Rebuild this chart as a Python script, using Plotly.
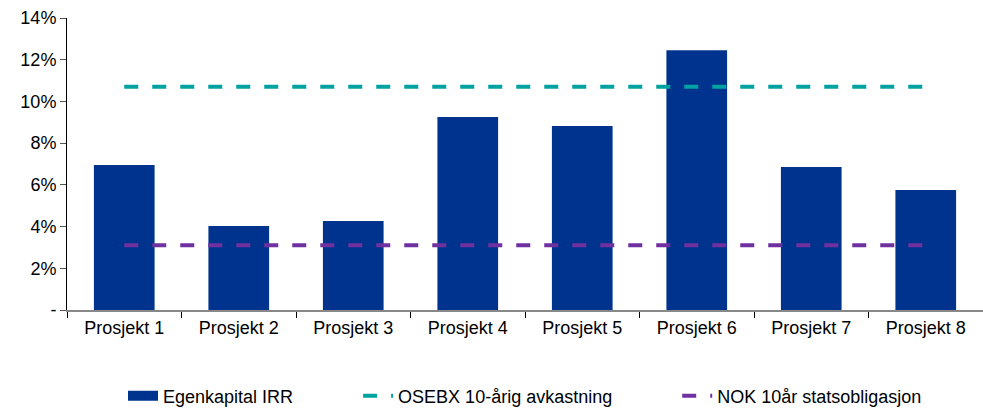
import plotly.graph_objects as go

categories = ["Prosjekt 1", "Prosjekt 2", "Prosjekt 3", "Prosjekt 4",
              "Prosjekt 5", "Prosjekt 6", "Prosjekt 7", "Prosjekt 8"]
irr = [6.95, 4.03, 4.27, 9.25, 8.82, 12.45, 6.86, 5.75]
osebx = [10.7, 10.7, 10.7, 10.7, 10.7, 10.7, 10.7, 10.7]
nok = [3.1, 3.1, 3.1, 3.1, 3.1, 3.1, 3.1, 3.1]
y_tickvals = [0, 2, 4, 6, 8, 10, 12, 14]
y_ticktext = ["-", "2%", "4%", "6%", "8%", "10%", "12%", "14%"]
series_names = ["Egenkapital IRR", "OSEBX 10-årig avkastning", "NOK 10år statsobligasjon"]

font = "Liberation Sans, Arial, sans-serif"
bar_color = "#00338D"
pad = "\u00a0" * 12

fig = go.Figure()
fig.add_trace(go.Bar(x=categories, y=irr, name=series_names[0], showlegend=False,
                     marker=dict(color=bar_color, line=dict(width=0))))
# legend entry with a wide swatch for the bars
fig.add_trace(go.Scatter(x=[None], y=[None], name=series_names[0] + pad, mode="lines",
                         line=dict(color=bar_color, width=10)))
fig.add_trace(go.Scatter(x=categories, y=osebx, name=series_names[1] + pad,
                         mode="lines",
                         line=dict(color="#00A3A1", width=4, dash="14px,14px")))
fig.add_trace(go.Scatter(x=categories, y=nok, name=series_names[2],
                         mode="lines",
                         line=dict(color="#7030A0", width=4, dash="14px,14px")))

fig.update_layout(
    width=983, height=409,
    margin=dict(l=67, r=0, t=18, b=99, autoexpand=False),
    plot_bgcolor="white", paper_bgcolor="white",
    font=dict(family=font, size=18, color="black"),
    bargap=0.47,
    showlegend=True,
    legend=dict(orientation="h", x=0.5, xanchor="center",
                yref="container", y=0.077, yanchor="top",
                font=dict(size=18), tracegroupgap=0),
    xaxis=dict(showline=True, linecolor="#888888", linewidth=2,
               ticks="outside", tickson="boundaries", ticklen=6, tickcolor="#000000",
               showgrid=False, zeroline=False),
    yaxis=dict(range=[0, 14], tickvals=y_tickvals, ticktext=y_ticktext,
               showline=True, linecolor="black", linewidth=1,
               ticks="outside", ticklen=6, tickcolor="#555555",
               showgrid=False, zeroline=False),
)

fig.write_html("out.html")
